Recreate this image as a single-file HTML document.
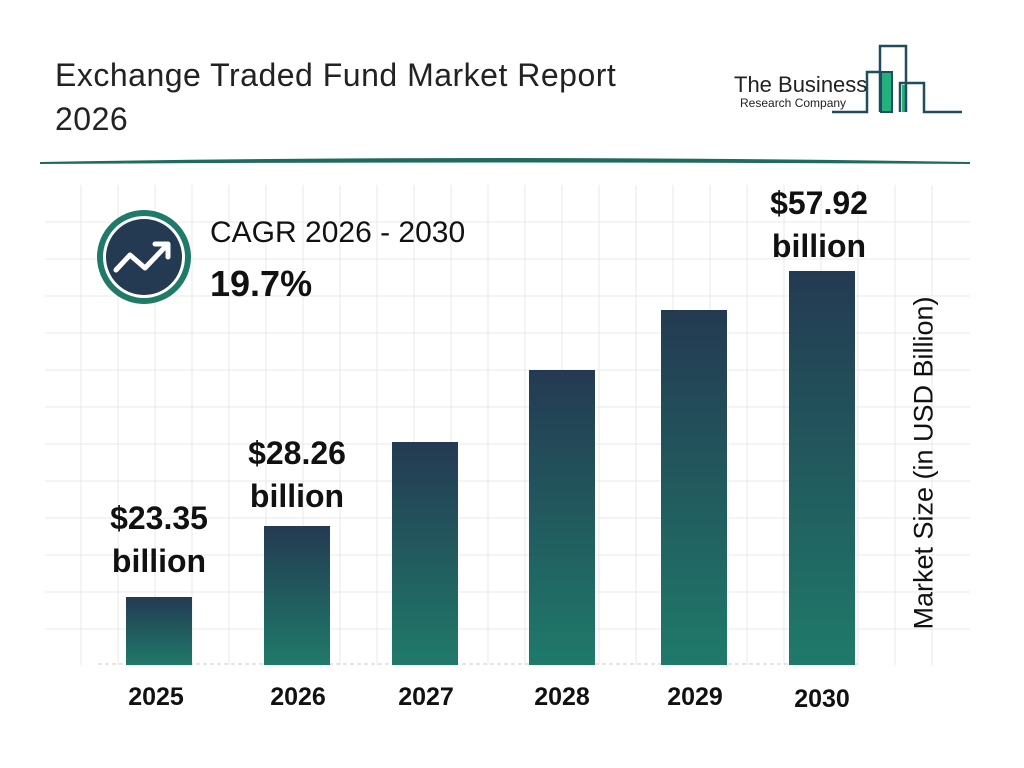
<!DOCTYPE html>
<html><head><style>
body{margin:0;width:1024px;height:768px;background:#fff;font-family:"Liberation Sans",sans-serif;position:relative;overflow:hidden}
.a{position:absolute}
.bar{position:absolute;bottom:103px;width:66px;background:linear-gradient(#243a52,#1f7a6a)}
.yr{position:absolute;top:683px;width:100px;text-align:center;font-weight:bold;font-size:25px;color:#111}
.val{position:absolute;width:160px;text-align:center;font-weight:bold;font-size:32px;line-height:43px;color:#111}
</style></head><body>
<svg class="a" style="left:0;top:0" width="1024" height="768">
<g stroke="#e8e8e8" stroke-width="1">
<path d="M81 185V665M118 185V665M155 185V665M192 185V665M229 185V665M266 185V665M303 185V665M340 185V665M377 185V665M414 185V665M451 185V665M488 185V665M525 185V665M562 185V665M599 185V665M636 185V665M673 185V665M710 185V665M747 185V665M784 185V665M821 185V665M858 185V665M895 185V665M932 185V665"/>
<path d="M45 222H970M45 259H970M45 296H970M45 333H970M45 370H970M45 407H970M45 444H970M45 481H970M45 518H970M45 555H970M45 592H970M45 629H970"/>
</g>
<path d="M98 664H860" stroke="#ccc" stroke-dasharray="4 3"/>
<path d="M40 163 Q500 155 970 163 Q500 160 40 163Z" fill="#1f6b5e" stroke="#1f6b5e" stroke-width="2"/>
<circle cx="144" cy="257" r="47" fill="#1f7a6a"/>
<circle cx="144" cy="257" r="41" fill="#fff"/>
<circle cx="144" cy="257" r="38" fill="#243a52"/>
<path d="M116 270L130 255L145 268L166 246M155 244H168V257" stroke="#fff" stroke-width="5" fill="none" stroke-linecap="round" stroke-linejoin="round"/>
<rect x="881" y="72" width="11" height="40" fill="#22b07d" stroke="#1f4d5e" stroke-width="2"/>
<rect x="902" y="85" width="4" height="27" fill="#22b07d"/>
<g fill="none" stroke="#1f4d5e" stroke-width="2.5">
<path d="M832 112H867V72H881M880 112V46H906V112M900 112V83H924V112H962"/>
</g>
</svg>
<div class="a" style="left:55px;top:53px;font-size:32px;line-height:44px;color:#222;letter-spacing:0.5px">Exchange Traded Fund Market Report<br>2026</div>
<div class="a" style="left:734px;top:72px;font-size:22px;color:#222">The Business</div>
<div class="a" style="left:740px;top:96px;font-size:12px;color:#222">Research Company</div>
<div class="a" style="left:210px;top:216px;font-size:30px;color:#111">CAGR 2026 - 2030</div>
<div class="a" style="left:210px;top:263px;font-size:36px;font-weight:bold;color:#111">19.7%</div>
<div class="bar" style="left:126px;height:68px"></div>
<div class="bar" style="left:264px;height:139px"></div>
<div class="bar" style="left:392px;height:223px"></div>
<div class="bar" style="left:529px;height:295px"></div>
<div class="bar" style="left:661px;height:355px"></div>
<div class="bar" style="left:789px;height:394px"></div>
<div class="val" style="left:79px;top:497px">$23.35<br>billion</div>
<div class="val" style="left:217px;top:432px">$28.26<br>billion</div>
<div class="val" style="left:739px;top:182px">$57.92<br>billion</div>
<div class="yr" style="left:106px">2025</div>
<div class="yr" style="left:248px">2026</div>
<div class="yr" style="left:376px">2027</div>
<div class="yr" style="left:512px">2028</div>
<div class="yr" style="left:645px">2029</div>
<div class="yr" style="left:772px;top:685px">2030</div>
<div class="a" style="left:924px;top:463px;transform:translate(-50%,-50%) rotate(-90deg);white-space:nowrap;font-size:27px;color:#111">Market Size (in USD Billion)</div>
</body></html>
